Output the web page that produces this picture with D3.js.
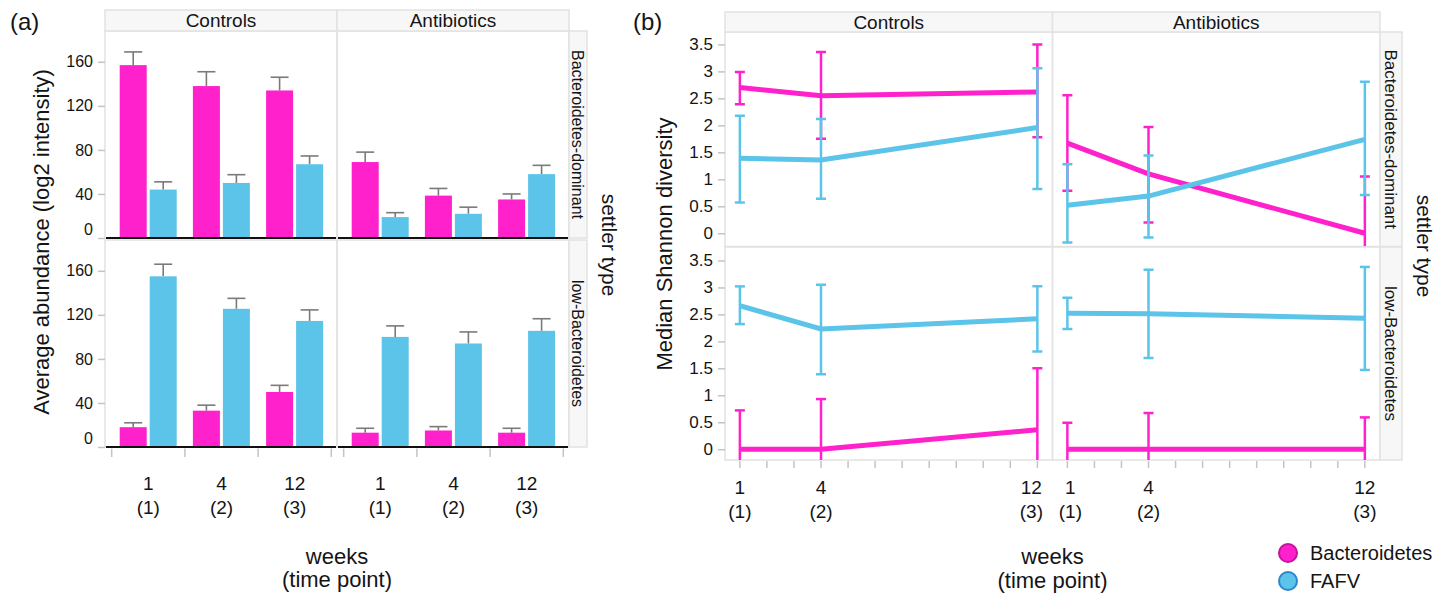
<!DOCTYPE html>
<html><head><meta charset="utf-8">
<script src="https://cdn.jsdelivr.net/npm/d3@7"></script>
<style>
body{margin:0;background:#fff;}
text{font-family:"Liberation Sans",Arial,Helvetica,sans-serif;fill:#141414;}
</style>
</head><body><svg id="chart" width="1451" height="598"></svg>
<script>
// ---------------- data ----------------
const treatments = ["Controls", "Antibiotics"];
const settlerTypes = ["Bacteroidetes-dominant", "low-Bacteroidetes"];
const series = ["Bacteroidetes", "FAFV"];
const seriesColors = ["#ff22cc", "#5bc4e8"];
const seriesStroke = ["#c8119e", "#2a86cf"];
const weeks = [1, 4, 12];
const weekLabels = ["1", "4", "12"];
const timePointLabels = ["(1)", "(2)", "(3)"];
const weekMinorTicks = [1, 2, 3, 4, 5, 6, 7, 8, 9, 10, 11, 12];

// Panel (a) average abundance (log2 intensity): [settler type][treatment][week]
const abundanceBacteroidetes    = [[[157, 138, 134], [69, 38.5, 35]], [[18, 33, 50], [13, 15, 13]]];
const abundanceBacteroidetesErr = [[[12, 13, 12], [9, 6.5, 5]], [[4, 5, 6], [4, 3.5, 4]]];
const abundanceFAFV             = [[[44, 50, 67], [19, 22, 58]], [[155, 125.5, 114.5], [100, 94, 105.5]]];
const abundanceFAFVErr          = [[[7, 7.5, 7.5], [4, 6, 8]], [[11, 9.5, 10], [10, 10.5, 11]]];
const abundanceTicks = [0, 40, 80, 120, 160];

// Panel (b) median Shannon diversity: [settler type][treatment][week]
const shannonBacteroidetes     = [[[2.70, 2.55, 2.62], [1.67, 1.10, 0.00]], [[0, 0, 0.36], [0, 0, 0]]];
const shannonBacteroidetesLow  = [[[2.39, 1.75, 1.78], [0.79, 0.20, -1.05]], [[-0.72, -0.93, -0.78], [-0.49, -0.67, -0.59]]];
const shannonBacteroidetesHigh = [[[2.99, 3.36, 3.50], [2.56, 1.97, 1.05]], [[0.72, 0.93, 1.50], [0.49, 0.67, 0.59]]];
const shannonFAFV     = [[[1.39, 1.36, 1.96], [0.52, 0.69, 1.74]], [[2.66, 2.23, 2.42], [2.52, 2.51, 2.43]]];
const shannonFAFVLow  = [[[0.57, 0.64, 0.82], [-0.17, -0.08, 0.71]], [[2.32, 1.39, 1.81], [2.23, 1.69, 1.47]]];
const shannonFAFVHigh = [[[2.18, 2.12, 3.06], [1.28, 1.44, 2.81]], [[3.02, 3.05, 3.02], [2.81, 3.33, 3.38]]];
const shannonTicks = [0, 0.5, 1, 1.5, 2, 2.5, 3, 3.5];
const shannonTickLabels = ["0", "0.5", "1", "1.5", "2", "2.5", "3", "3.5"];

// ---------------- drawing ----------------
const svg = d3.select("#chart");
const GRID = "#e2e2e2", STRIPFILL = "#f7f7f7", TICK = "#c4c4c4";

function strips(cfg, colFont, rowFont) {
  treatments.forEach((t, c) => {
    const fx = cfg.x0 + c * cfg.facetW;
    svg.append("rect").attr("x", fx).attr("y", cfg.stripY[0]).attr("width", cfg.facetW)
      .attr("height", cfg.stripY[1] - cfg.stripY[0]).attr("fill", STRIPFILL).attr("stroke", GRID).attr("stroke-width", 1.5);
    svg.append("text").attr("x", fx + cfg.facetW / 2).attr("y", (cfg.stripY[0] + cfg.stripY[1]) / 2 + colFont * 0.36)
      .attr("text-anchor", "middle").attr("font-size", colFont).text(t);
  });
  settlerTypes.forEach((s, r) => {
    const [y0, y1] = cfg.rows[r];
    svg.append("rect").attr("x", cfg.rowStripX[0]).attr("y", y0).attr("width", cfg.rowStripX[1] - cfg.rowStripX[0])
      .attr("height", y1 - y0).attr("fill", STRIPFILL).attr("stroke", GRID).attr("stroke-width", 1.5);
    const cx = (cfg.rowStripX[0] + cfg.rowStripX[1]) / 2, cy = (y0 + y1) / 2;
    svg.append("text").attr("transform", `translate(${cx - rowFont * 0.36},${cy}) rotate(90)`)
      .attr("text-anchor", "middle").attr("font-size", rowFont).text(s);
  });
}

// ===== Panel (a) =====
const A = { x0: 105, facetW: 232, rows: [[31, 238], [240, 447]], stripY: [10, 31], rowStripX: [569, 587], pad: 6.7, yMax: 188 };
svg.append("text").attr("x", 10).attr("y", 30).attr("font-size", 24).text("(a)");

const abVals = [abundanceBacteroidetes, abundanceFAFV];
const abErrs = [abundanceBacteroidetesErr, abundanceFAFVErr];

settlerTypes.forEach((s, r) => {
  const [top, bottom] = A.rows[r];
  const y = d3.scaleLinear().domain([0, A.yMax]).range([bottom, top]);
  treatments.forEach((t, c) => {
    const fx = A.x0 + c * A.facetW;
    const g = svg.append("g");
    g.append("rect").attr("x", fx).attr("y", top).attr("width", A.facetW).attr("height", bottom - top)
      .attr("fill", "none").attr("stroke", GRID).attr("stroke-width", 1.5);
    const xg = d3.scaleBand().domain(weeks).range([fx + A.pad, fx + A.facetW - A.pad + 1]);
    const xs = d3.scaleBand().domain(series).range([8, 65]).paddingInner(0.1);
    series.forEach((se, k) => {
      weeks.forEach((w, i) => {
        const v = abVals[k][r][c][i], e = abErrs[k][r][c][i];
        const bx = xg(w) + xs(se), bw = xs.bandwidth(), cx = bx + bw / 2;
        g.append("line").attr("x1", cx).attr("x2", cx).attr("y1", y(v)).attr("y2", y(v + e))
          .attr("stroke", "#7a7a7a").attr("stroke-width", 1.6);
        g.append("line").attr("x1", cx - 9).attr("x2", cx + 9).attr("y1", y(v + e)).attr("y2", y(v + e))
          .attr("stroke", "#7a7a7a").attr("stroke-width", 1.6);
        g.append("rect").attr("x", bx).attr("y", y(v)).attr("width", bw).attr("height", y(0) - y(v))
          .attr("fill", seriesColors[k]);
      });
    });
    // baseline
    g.append("line").attr("x1", fx + 1).attr("x2", fx + A.facetW - 1).attr("y1", y(0)).attr("y2", y(0))
      .attr("stroke", "#111").attr("stroke-width", 2);
    if (r === 1) {
      const bounds = weeks.map(w => xg(w)).concat([xg(weeks[weeks.length - 1]) + xg.bandwidth()]);
      bounds.forEach(b => g.append("line").attr("x1", b).attr("x2", b).attr("y1", bottom + 1.5).attr("y2", bottom + 10)
        .attr("stroke", TICK).attr("stroke-width", 1.5));
      weeks.forEach((w, i) => {
        const cx = xg(w) + xg.bandwidth() / 2;
        g.append("text").attr("x", cx).attr("y", 490).attr("text-anchor", "middle").attr("font-size", 19).text(weekLabels[i]);
        g.append("text").attr("x", cx).attr("y", 514).attr("text-anchor", "middle").attr("font-size", 19).text(timePointLabels[i]);
      });
    }
  });
  // y axis
  const ax = svg.append("g").attr("transform", `translate(${A.x0},0)`)
    .call(d3.axisLeft(y).tickValues(abundanceTicks).tickSize(7).tickSizeOuter(0).tickPadding(5));
  ax.select(".domain").remove();
  ax.selectAll(".tick line").attr("stroke", TICK).attr("stroke-width", 1.5);
  ax.selectAll(".tick text").attr("font-size", 16).attr("font-family", null).attr("fill", "#141414")
    .attr("dy", d => d === 0 ? "-0.25em" : "0.32em");
});
strips(A, 19, 16);
svg.append("text").attr("transform", `translate(${49},${242}) rotate(-90)`).attr("text-anchor", "middle")
  .attr("font-size", 22).text("Average abundance (log2 intensity)");
svg.append("text").attr("transform", `translate(${602},${245}) rotate(90)`).attr("text-anchor", "middle")
  .attr("font-size", 21).text("settler type");
svg.append("text").attr("x", A.x0 + A.facetW).attr("y", 564).attr("text-anchor", "middle").attr("font-size", 22).text("weeks");
svg.append("text").attr("x", A.x0 + A.facetW).attr("y", 587).attr("text-anchor", "middle").attr("font-size", 22).text("(time point)");

// ===== Panel (b) =====
const B = { x0: 725, facetW: 327.5, rows: [[32, 246.5], [247, 460]], stripY: [12, 32], rowStripX: [1380, 1402],
  yDomains: [[-0.245, 3.73], [-0.2, 3.75]], xDomain: [0.45, 12.56] };
svg.append("text").attr("x", 633).attr("y", 30).attr("font-size", 24).text("(b)");

const shVals = [shannonBacteroidetes, shannonFAFV];
const shLow = [shannonBacteroidetesLow, shannonFAFVLow];
const shHigh = [shannonBacteroidetesHigh, shannonFAFVHigh];

settlerTypes.forEach((s, r) => {
  const [top, bottom] = B.rows[r];
  const y = d3.scaleLinear().domain(B.yDomains[r]).range([bottom, top]);
  treatments.forEach((t, c) => {
    const fx = B.x0 + c * B.facetW;
    const x = d3.scaleLinear().domain(B.xDomain).range([fx, fx + B.facetW]);
    const cid = `clip-${r}-${c}`;
    svg.append("clipPath").attr("id", cid).append("rect").attr("x", fx).attr("y", top)
      .attr("width", B.facetW).attr("height", bottom - top);
    svg.append("rect").attr("x", fx).attr("y", top).attr("width", B.facetW).attr("height", bottom - top)
      .attr("fill", "none").attr("stroke", GRID).attr("stroke-width", 1.5);
    const g = svg.append("g").attr("clip-path", `url(#${cid})`);
    series.forEach((se, k) => {
      const pts = weeks.map((w, i) => ({ w, v: shVals[k][r][c][i], lo: shLow[k][r][c][i], hi: shHigh[k][r][c][i] }));
      pts.forEach(p => {
        const cx = x(p.w);
        g.append("line").attr("x1", cx).attr("x2", cx).attr("y1", y(p.lo)).attr("y2", y(p.hi))
          .attr("stroke", seriesColors[k]).attr("stroke-width", 2.5);
        [p.lo, p.hi].forEach(e => g.append("line").attr("x1", cx - 5).attr("x2", cx + 5).attr("y1", y(e)).attr("y2", y(e))
          .attr("stroke", seriesColors[k]).attr("stroke-width", 2.5));
      });
      g.append("path").datum(pts).attr("fill", "none").attr("stroke", seriesColors[k]).attr("stroke-width", 5)
        .attr("d", d3.line().x(p => x(p.w)).y(p => y(p.v)));
    });
    if (r === 1) {
      weekMinorTicks.forEach(w => svg.append("line").attr("x1", x(w)).attr("x2", x(w)).attr("y1", bottom + 1)
        .attr("y2", bottom + 8).attr("stroke", TICK).attr("stroke-width", 1.5));
      weeks.forEach((w, i) => {
        let dx = 0;
        if (c === 0 && i === weeks.length - 1) dx = -6;
        if (c === 1 && i === 0) dx = 3;
        svg.append("text").attr("x", x(w) + dx).attr("y", 494).attr("text-anchor", "middle").attr("font-size", 19).text(weekLabels[i]);
        svg.append("text").attr("x", x(w) + dx).attr("y", 518).attr("text-anchor", "middle").attr("font-size", 19).text(timePointLabels[i]);
      });
    }
  });
  const ax = svg.append("g").attr("transform", `translate(${B.x0},0)`)
    .call(d3.axisLeft(y).tickValues(shannonTicks).tickFormat((d, i) => shannonTickLabels[i])
      .tickSize(7).tickSizeOuter(0).tickPadding(5));
  ax.select(".domain").remove();
  ax.selectAll(".tick line").attr("stroke", TICK).attr("stroke-width", 1.5);
  ax.selectAll(".tick text").attr("font-size", 17).attr("font-family", null).attr("fill", "#141414");
});
strips(B, 19, 17);
svg.append("text").attr("transform", `translate(${672},${244}) rotate(-90)`).attr("text-anchor", "middle")
  .attr("font-size", 22).text("Median Shannon diversity");
svg.append("text").attr("transform", `translate(${1417},${246}) rotate(90)`).attr("text-anchor", "middle")
  .attr("font-size", 21).text("settler type");
svg.append("text").attr("x", B.x0 + B.facetW).attr("y", 564).attr("text-anchor", "middle").attr("font-size", 22).text("weeks");
svg.append("text").attr("x", B.x0 + B.facetW).attr("y", 588).attr("text-anchor", "middle").attr("font-size", 22).text("(time point)");

// legend
series.forEach((se, k) => {
  const ly = 553 + k * 28;
  svg.append("circle").attr("cx", 1288).attr("cy", ly).attr("r", 9).attr("fill", seriesColors[k])
    .attr("stroke", seriesStroke[k]).attr("stroke-width", 2);
  svg.append("text").attr("x", 1310).attr("y", ly + 7).attr("font-size", 20).text(se);
});
</script>
</body></html>
